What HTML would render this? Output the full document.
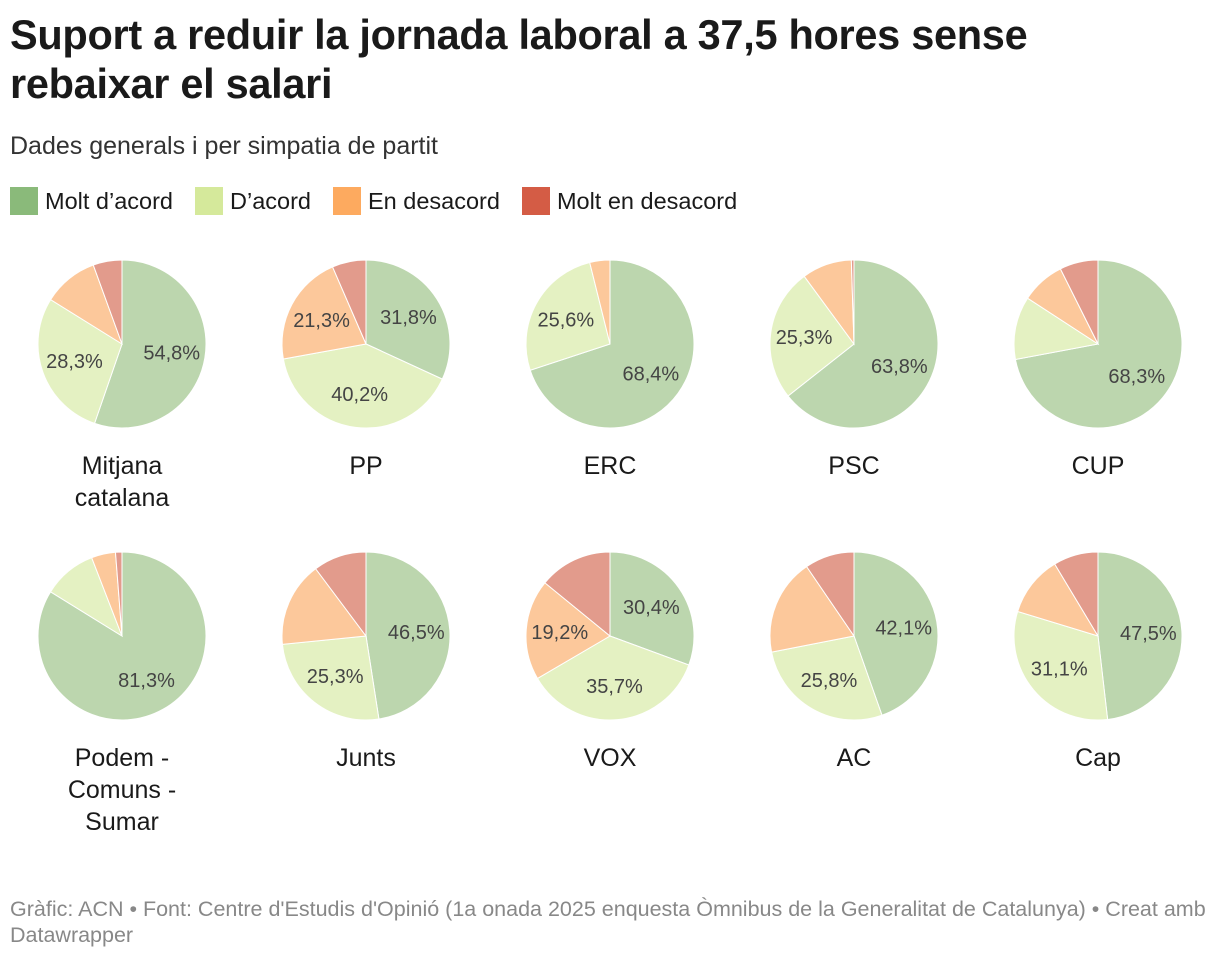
<!DOCTYPE html>
<html><head><meta charset="utf-8">
<style>
body{margin:0;background:#fff;font-family:"Liberation Sans",sans-serif;color:#1a1a1a;width:1220px;height:958px;overflow:hidden;position:relative}
h1{position:absolute;left:10px;top:10px;margin:0;font-size:41.5px;line-height:49px;font-weight:bold;letter-spacing:-0.3px}
.sub{position:absolute;left:10px;top:132px;font-size:25px;color:#333}
.legend{position:absolute;left:10px;top:187px;font-size:23.5px;display:flex;gap:0}
.li{display:flex;align-items:center;margin-right:22px}
.sw{width:28px;height:28px;margin-right:7px}
.foot{position:absolute;left:10px;top:896px;font-size:21.5px;color:#888;line-height:26px;width:1208px}
</style></head><body>
<h1>Suport a reduir la jornada laboral a 37,5 hores sense<br>rebaixar el salari</h1>
<div class="sub">Dades generals i per simpatia de partit</div>
<div class="legend">
<div class="li"><div class="sw" style="background:#8aba7a"></div>Molt d’acord</div>
<div class="li"><div class="sw" style="background:#d5e99b"></div>D’acord</div>
<div class="li"><div class="sw" style="background:#fdaa5f"></div>En desacord</div>
<div class="li"><div class="sw" style="background:#d45c45"></div>Molt en desacord</div>
</div>
<svg id="chart" width="1220" height="958" style="position:absolute;left:0;top:0"></svg>
<div class="foot">Gràfic: ACN • Font: Centre d'Estudis d'Opinió (1a onada 2025 enquesta Òmnibus de la Generalitat de Catalunya) • Creat amb Datawrapper</div>
<script>
const categories=["Mitjana catalana","PP","ERC","PSC","CUP","Podem - Comuns - Sumar","Junts","VOX","AC","Cap"];
const moltAcord=[54.8,31.8,68.4,63.8,68.3,81.3,46.5,30.4,42.1,47.5];
const acord=[28.3,40.2,25.6,25.3,11.5,10.0,25.3,35.7,25.8,31.1];
const desacord=[10.5,21.3,3.8,9.5,8.0,4.5,16.0,19.2,17.5,11.5];
const moltDesacord=[5.5,6.5,0,0.5,7.0,1.2,10.0,14.0,9.0,8.5];
const colors=["#bcd6ae","#e4f1c2","#fcc89b","#e29b8c"];
const ns="http://www.w3.org/2000/svg";
const svg=document.getElementById('chart');
const R=84;
function pt(cx,cy,r,f){const a=f*2*Math.PI;return [cx+r*Math.sin(a),cy-r*Math.cos(a)];}
function fmt(v){return v.toFixed(1).replace('.',',')+'%';}
categories.forEach((cat,i)=>{
  const cx=122+(i%5)*244, cy=i<5?344:636;
  const vals=[moltAcord[i],acord[i],desacord[i],moltDesacord[i]];
  const tot=vals.reduce((a,b)=>a+b,0);
  let c=0;
  vals.forEach((v,k)=>{
    if(v<=0)return;
    const f0=c/tot,f1=(c+v)/tot;c+=v;
    const [x0,y0]=pt(cx,cy,R,f0),[x1,y1]=pt(cx,cy,R,f1);
    const p=document.createElementNS(ns,'path');
    p.setAttribute('d',`M${cx},${cy}L${x0},${y0}A${R},${R} 0 ${f1-f0>0.5?1:0} 1 ${x1},${y1}Z`);
    p.setAttribute('fill',colors[k]);p.setAttribute('stroke','#fff');p.setAttribute('stroke-width','1');
    
    
    svg.appendChild(p);
    if(v>=18.5){
      const [lx,ly]=pt(cx,cy,R*0.6,(f0+f1)/2);
      const t=document.createElementNS(ns,'text');
      t.setAttribute('x',lx);t.setAttribute('y',ly+7);t.setAttribute('text-anchor','middle');
      t.setAttribute('font-size','20');t.setAttribute('fill','#444');
      t.setAttribute('font-family','Liberation Sans, sans-serif');
      t.textContent=fmt(v);
      
      
      svg.appendChild(t);
    }
  });
  const words=cat==="Mitjana catalana"?["Mitjana","catalana"]:cat.startsWith("Podem")?["Podem -","Comuns -","Sumar"]:[cat];
  words.forEach((w,j)=>{
    const t=document.createElementNS(ns,'text');
    t.setAttribute('x',cx);t.setAttribute('y',cy+130+j*32);t.setAttribute('text-anchor','middle');
    t.setAttribute('font-size','25');t.setAttribute('fill','#1a1a1a');
    t.setAttribute('font-family','Liberation Sans, sans-serif');
    t.textContent=w;
    
    
    svg.appendChild(t);
  });
});
</script>
</body></html>
